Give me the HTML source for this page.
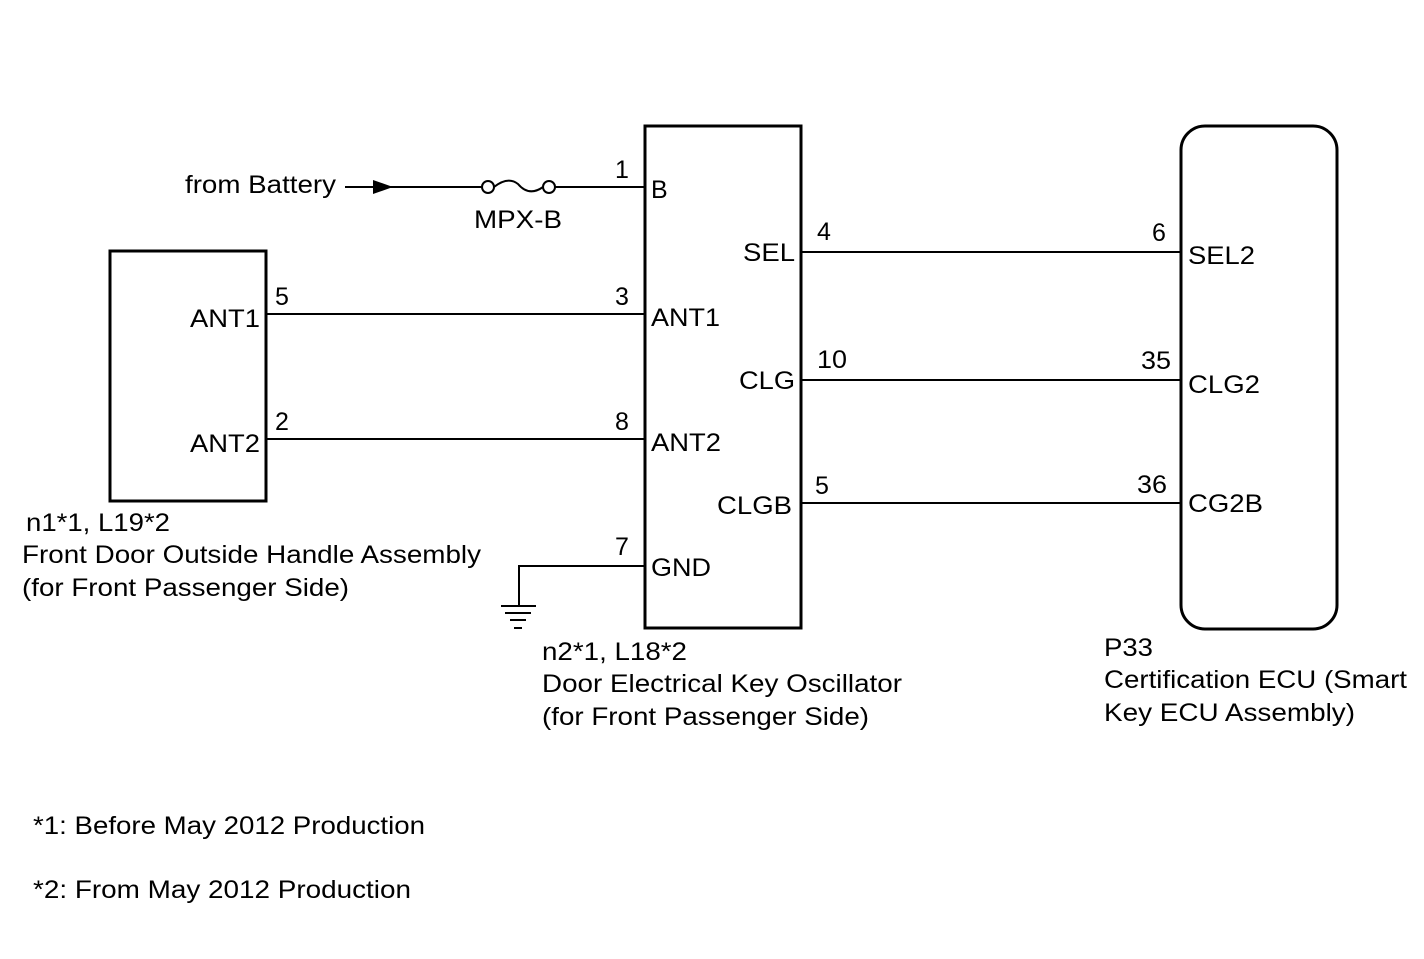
<!DOCTYPE html>
<html><head><style>body{margin:0;background:#fff}svg{display:block}</style></head><body>
<svg width="1424" height="959" xmlns="http://www.w3.org/2000/svg" font-family="Liberation Sans, sans-serif" font-size="25" fill="#000">
<g fill="none" stroke="#000">
<rect x="110" y="251" width="156" height="250" stroke-width="3"/>
<rect x="645" y="126" width="156" height="502" stroke-width="3"/>
<rect x="1181" y="126" width="156" height="503" rx="24" stroke-width="3"/>
<g stroke-width="2">
<line x1="345" y1="187" x2="482" y2="187"/>
<circle cx="488" cy="187" r="6"/>
<circle cx="549" cy="187" r="6"/>
<path d="M494 187 Q508 176 518 184 Q529 197 543 187"/>
<line x1="555" y1="187" x2="645" y2="187"/>
<line x1="266" y1="314" x2="645" y2="314"/>
<line x1="266" y1="439" x2="645" y2="439"/>
<line x1="801" y1="252" x2="1181" y2="252"/>
<line x1="801" y1="380" x2="1181" y2="380"/>
<line x1="801" y1="503" x2="1181" y2="503"/>
<polyline points="645,566 519,566 519,606"/>
<line x1="501" y1="606" x2="536" y2="606"/>
<line x1="505" y1="613" x2="531" y2="613"/>
<line x1="510" y1="620" x2="526" y2="620"/>
<line x1="514" y1="628" x2="522" y2="628"/>
</g>
</g>
<polygon points="373,180 373,194 393,187"/>
<g lengthAdjust="spacingAndGlyphs">
<text x="185" y="193" textLength="151" lengthAdjust="spacingAndGlyphs">from Battery</text>
<text x="474" y="228" textLength="88" lengthAdjust="spacingAndGlyphs">MPX-B</text>
<text x="615" y="178">1</text><text x="651" y="198">B</text>
<text x="275" y="305">5</text><text x="190" y="327" textLength="70" lengthAdjust="spacingAndGlyphs">ANT1</text>
<text x="275" y="430">2</text><text x="190" y="452" textLength="70" lengthAdjust="spacingAndGlyphs">ANT2</text>
<text x="615" y="305">3</text><text x="651" y="326" textLength="69" lengthAdjust="spacingAndGlyphs">ANT1</text>
<text x="615" y="430">8</text><text x="651" y="451" textLength="70" lengthAdjust="spacingAndGlyphs">ANT2</text>
<text x="615" y="555">7</text><text x="651" y="576" textLength="60" lengthAdjust="spacingAndGlyphs">GND</text>
<text x="743" y="261" textLength="52" lengthAdjust="spacingAndGlyphs">SEL</text><text x="817" y="240">4</text>
<text x="739" y="389" textLength="56" lengthAdjust="spacingAndGlyphs">CLG</text><text x="817" y="368" textLength="30" lengthAdjust="spacingAndGlyphs">10</text>
<text x="717" y="514" textLength="75" lengthAdjust="spacingAndGlyphs">CLGB</text><text x="815" y="494">5</text>
<text x="1152" y="241">6</text><text x="1188" y="264" textLength="67" lengthAdjust="spacingAndGlyphs">SEL2</text>
<text x="1141" y="369" textLength="30" lengthAdjust="spacingAndGlyphs">35</text><text x="1188" y="393" textLength="72" lengthAdjust="spacingAndGlyphs">CLG2</text>
<text x="1137" y="493" textLength="30" lengthAdjust="spacingAndGlyphs">36</text><text x="1188" y="512" textLength="75" lengthAdjust="spacingAndGlyphs">CG2B</text>
<text x="26" y="531" textLength="144" lengthAdjust="spacingAndGlyphs">n1*1, L19*2</text>
<text x="22" y="563" textLength="459" lengthAdjust="spacingAndGlyphs">Front Door Outside Handle Assembly</text>
<text x="22" y="596" textLength="327" lengthAdjust="spacingAndGlyphs">(for Front Passenger Side)</text>
<text x="542" y="660" textLength="145" lengthAdjust="spacingAndGlyphs">n2*1, L18*2</text>
<text x="542" y="692" textLength="360" lengthAdjust="spacingAndGlyphs">Door Electrical Key Oscillator</text>
<text x="542" y="725" textLength="327" lengthAdjust="spacingAndGlyphs">(for Front Passenger Side)</text>
<text x="1104" y="656" textLength="49" lengthAdjust="spacingAndGlyphs">P33</text>
<text x="1104" y="688" textLength="303" lengthAdjust="spacingAndGlyphs">Certification ECU (Smart</text>
<text x="1104" y="721" textLength="251" lengthAdjust="spacingAndGlyphs">Key ECU Assembly)</text>
<text x="33" y="834" textLength="392" lengthAdjust="spacingAndGlyphs">*1: Before May 2012 Production</text>
<text x="33" y="898" textLength="378" lengthAdjust="spacingAndGlyphs">*2: From May 2012 Production</text>
</g>
</svg>
</body></html>
